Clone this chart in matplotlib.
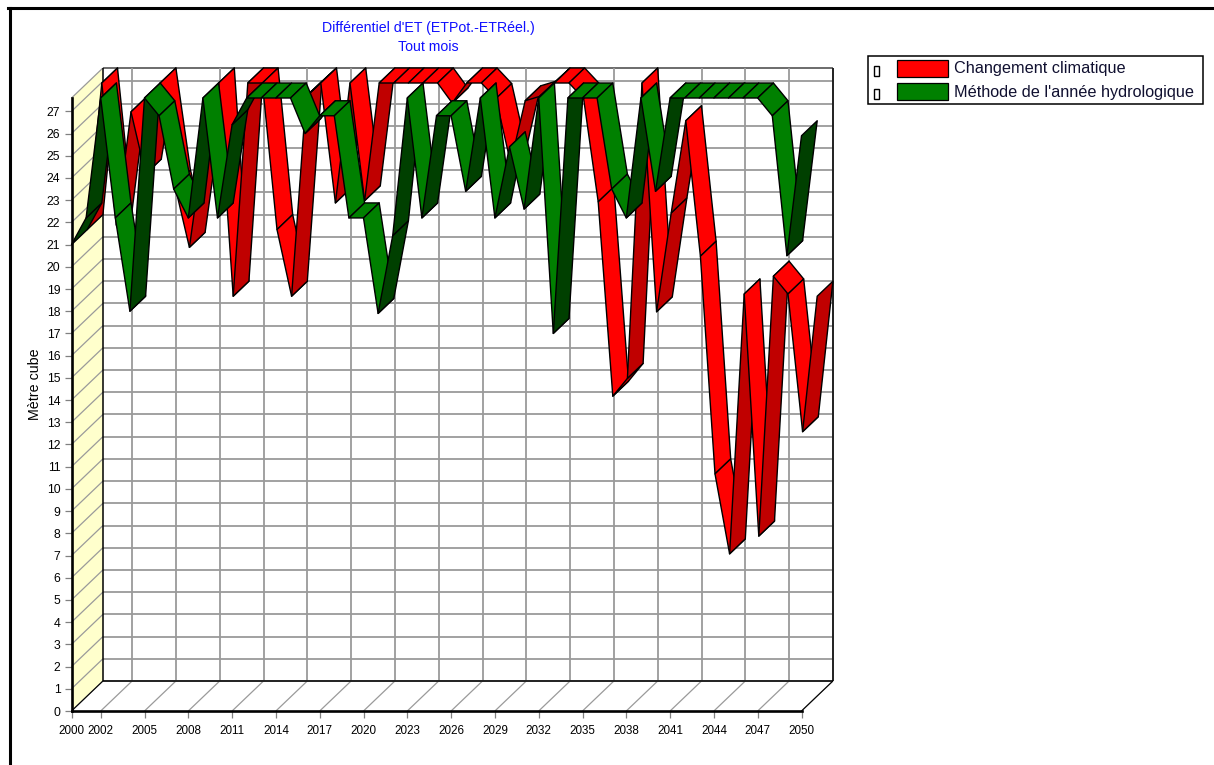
import matplotlib
matplotlib.use("Agg")
import matplotlib.pyplot as plt
from matplotlib.patches import Polygon, Rectangle
from matplotlib.transforms import Affine2D

years = list(range(2000, 2051))
climat = [21.0, 27.6, 21.2, 26.3, 23.5, 27.6, 23.0, 20.2, 24.9, 27.6,
          18.0, 27.6, 27.6, 21.0, 18.0, 27.0, 27.6, 22.2, 27.6, 22.3,
          27.6, 27.6, 27.6, 27.6, 27.6, 26.7, 27.6, 27.6, 26.9, 24.0,
          26.8, 27.0, 27.6, 27.6, 26.9, 22.25, 13.5, 14.3, 27.6, 17.3,
          21.75, 25.9, 19.8, 10.0, 6.4, 18.1, 7.2, 18.9, 18.1, 11.9,
          18.0]
hydro = [21.0, 22.2, 27.6, 22.2, 18.0, 27.6, 26.8, 23.5, 22.2, 27.6,
         22.2, 26.4, 27.6, 27.6, 27.6, 27.6, 26.0, 26.8, 26.8, 22.2,
         22.2, 17.9, 21.4, 27.6, 22.2, 26.8, 26.8, 23.4, 27.6, 22.2,
         25.4, 22.6, 27.6, 17.0, 27.6, 27.6, 27.6, 23.5, 22.2, 27.6,
         23.4, 27.6, 27.6, 27.6, 27.6, 27.6, 27.6, 27.6, 26.8, 20.5,
         25.9]
x_ticks = [2000, 2002, 2005, 2008, 2011, 2014, 2017, 2020, 2023, 2026,
           2029, 2032, 2035, 2038, 2041, 2044, 2047, 2050]
y_ticks = list(range(0, 28))
names = ["Changement climatique", "Méthode de l'année hydrologique"]
title_lines = ["Différentiel d'ET (ETPot.-ETRéel.)", "Tout mois"]

W, H = 1214, 765
Y_TOP = 27.6
plt.rcParams["font.family"] = ["Liberation Sans", "DejaVu Sans"]

fig = plt.figure(figsize=(W / 100, H / 100), dpi=100)
ax = fig.add_axes([71.5 / W, (H - 711) / H, 730 / W, 613 / H])
ax.set_xlim(2000, 2050)
ax.set_ylim(0, Y_TOP)
ax.patch.set_visible(False)

# pixels with y going down, for the frame and the legend
px = Affine2D().scale(1, -1).translate(0, H)

# depth of the 3D box, turned into data units
DX = 31.4 / (730 / 50)
DY = 30.0 / (613 / Y_TOP)


def line(xs, ys, color="#9a9a9a", lw=1.3, z=0.5):
    ax.plot(xs, ys, color=color, lw=lw, clip_on=False, zorder=z, solid_capstyle="butt")


# left wall, floor and back wall
ax.add_patch(Polygon([(2000, 0), (2000 + DX, DY), (2000 + DX, Y_TOP + DY), (2000, Y_TOP)],
                     facecolor="#ffffcc", edgecolor="none", clip_on=False, zorder=0.2))
for v in y_ticks:
    line([2000, 2000 + DX], [v, v + DY], lw=0.9)
    line([2000 + DX, 2050 + DX], [v + DY, v + DY])
line([2000, 2000 + DX], [Y_TOP, Y_TOP + DY], lw=0.9)
line([2000 + DX, 2050 + DX], [Y_TOP + DY, Y_TOP + DY], color="#606060")
for yr in x_ticks[1:]:
    line([yr, yr + DX], [0, DY], lw=0.9)
    line([yr + DX, yr + DX], [DY, Y_TOP + DY])
line([2000, 2000 + DX], [0, DY], color="black", lw=0.8, z=0.6)
line([2050, 2050 + DX], [0, DY], color="black", lw=0.8, z=0.6)
line([2000 + DX, 2050 + DX], [DY, DY], color="black", lw=1.1, z=0.6)
line([2000 + DX, 2000 + DX], [DY, Y_TOP + DY], color="black", lw=1.1, z=0.6)
line([2050 + DX, 2050 + DX], [DY, Y_TOP + DY], color="black", lw=1.1, z=0.6)


def ribbon(values, z0, z1, light, dark, order):
    for i in range(len(years) - 1):
        x0, x1 = years[i], years[i + 1]
        y0, y1 = values[i], values[i + 1]
        pts = [(x0 + z0 * DX, y0 + z0 * DY), (x1 + z0 * DX, y1 + z0 * DY),
               (x1 + z1 * DX, y1 + z1 * DY), (x0 + z1 * DX, y0 + z1 * DY)]
        ax.add_patch(Polygon(pts, facecolor=dark if y1 > y0 else light, edgecolor="black",
                             lw=1.0, joinstyle="round", clip_on=False, zorder=order + i * 0.001))


ribbon(climat, 0.5, 1.0, "#ff0000", "#c00000", 3)
ribbon(hydro, 0.0, 0.5, "#008000", "#004000", 4)

for side in ["top", "right"]:
    ax.spines[side].set_visible(False)
for side in ["left", "bottom"]:
    ax.spines[side].set_linewidth(1.9)
ax.set_xticks(x_ticks)
ax.set_yticks(y_ticks)
ax.tick_params(axis="both", labelsize=8.8, length=5, width=0.9, color="#808080", pad=3)
ax.tick_params(axis="x", pad=5)
ax.set_xticklabels([str(t) for t in x_ticks], fontsize=8.4)

# titles
fig.text(428, 28, title_lines[0], transform=px, color="#1010ff", fontsize=10.2, ha="center", va="center")
fig.text(428, 47, title_lines[1], transform=px, color="#1010ff", fontsize=10.2, ha="center", va="center")
fig.text(35, 384, "Mètre cube", transform=px, color="black", fontsize=10.3, rotation=90, ha="center", va="center")

# legend box
fig.add_artist(Rectangle((868, 56), 335, 48, transform=px, facecolor="white", edgecolor="black", lw=1.1))
for i, (name, col) in enumerate(zip(names, ["#ff0000", "#008000"])):
    top = 60 + i * 23
    fig.add_artist(Rectangle((874, top + 6), 5, 10, transform=px, facecolor="white", edgecolor="black", lw=1.0))
    fig.add_artist(Rectangle((897, top), 51, 17, transform=px, facecolor=col, edgecolor="black", lw=0.9))
    fig.text(954, top + 9, name, transform=px, color="#101030", fontsize=11.7, ha="left", va="center")

# outer frame of the screenshot
fig.add_artist(plt.Line2D([9.7, 9.7], [8, H], transform=px, color="black", lw=2.2))
fig.add_artist(plt.Line2D([8, W], [8, 8], transform=px, color="black", lw=2.2))

fig.savefig("out.png", dpi=100)
